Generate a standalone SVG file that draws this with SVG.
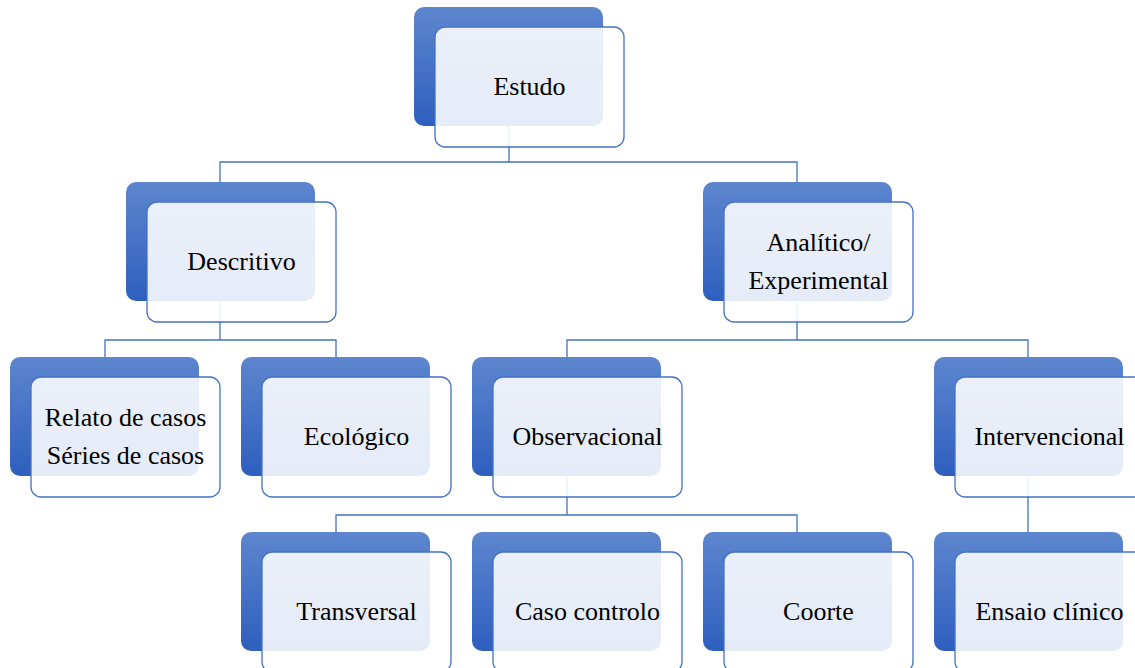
<svg xmlns="http://www.w3.org/2000/svg" width="1135" height="668" viewBox="0 0 1135 668">
<defs>
<linearGradient id="g" x1="0" y1="0" x2="0" y2="1">
<stop offset="0" stop-color="#5d86ce"/>
<stop offset="1" stop-color="#2e5fbe"/>
</linearGradient>
<style>
.back{fill:url(#g);}
.front{fill:#ffffff;fill-opacity:0.88;stroke:#4472c4;stroke-width:1.3;}
.t{font-family:"Liberation Serif","Times New Roman",serif;font-size:26px;fill:#000;text-anchor:middle;}
.c{fill:none;stroke:#4472c4;stroke-width:1.3;}
</style>
</defs>
<rect width="1135" height="668" fill="#ffffff"/>
<g id="connectors">
<path class="c" d="M509,126V162M220,182V162H797V182"/>
<path class="c" d="M220,301V340M105,357V340H336V357"/>
<path class="c" d="M797,301V340M567,357V340H1028V357"/>
<path class="c" d="M567,476V515M336,532V515H797V532"/>
<path class="c" d="M1028,476V532"/>
</g>
<g id="estudo">
<rect class="back" x="414" y="7" width="189" height="119" rx="10"/>
<rect class="front" x="435" y="27" width="189" height="120" rx="10"/>
<text class="t" x="529.5" y="95">Estudo</text>
</g>
<g id="descritivo">
<rect class="back" x="126" y="182" width="189" height="119" rx="10"/>
<rect class="front" x="147" y="202" width="189" height="120" rx="10"/>
<text class="t" x="241.5" y="270">Descritivo</text>
</g>
<g id="analitico">
<rect class="back" x="703" y="182" width="189" height="119" rx="10"/>
<rect class="front" x="724" y="202" width="189" height="120" rx="10"/>
<text class="t" x="818.5" y="251">Analítico/</text>
<text class="t" x="818.5" y="289">Experimental</text>
</g>
<g id="relato">
<rect class="back" x="10" y="357" width="189" height="119" rx="10"/>
<rect class="front" x="31" y="377" width="189" height="120" rx="10"/>
<text class="t" x="125.5" y="425.5">Relato de casos</text>
<text class="t" x="125.5" y="463.5">Séries de casos</text>
</g>
<g id="ecologico">
<rect class="back" x="241" y="357" width="189" height="119" rx="10"/>
<rect class="front" x="262" y="377" width="189" height="120" rx="10"/>
<text class="t" x="356.5" y="445">Ecológico</text>
</g>
<g id="observacional">
<rect class="back" x="472" y="357" width="189" height="119" rx="10"/>
<rect class="front" x="493" y="377" width="189" height="120" rx="10"/>
<text class="t" x="587.5" y="445">Observacional</text>
</g>
<g id="intervencional">
<rect class="back" x="934" y="357" width="189" height="119" rx="10"/>
<rect class="front" x="955" y="377" width="189" height="120" rx="10"/>
<text class="t" x="1049.5" y="445">Intervencional</text>
</g>
<g id="transversal">
<rect class="back" x="241" y="532" width="189" height="119" rx="10"/>
<rect class="front" x="262" y="552" width="189" height="120" rx="10"/>
<text class="t" x="356.5" y="620">Transversal</text>
</g>
<g id="caso-controlo">
<rect class="back" x="472" y="532" width="189" height="119" rx="10"/>
<rect class="front" x="493" y="552" width="189" height="120" rx="10"/>
<text class="t" x="587.5" y="620">Caso controlo</text>
</g>
<g id="coorte">
<rect class="back" x="703" y="532" width="189" height="119" rx="10"/>
<rect class="front" x="724" y="552" width="189" height="120" rx="10"/>
<text class="t" x="818.5" y="620">Coorte</text>
</g>
<g id="ensaio">
<rect class="back" x="934" y="532" width="189" height="119" rx="10"/>
<rect class="front" x="955" y="552" width="189" height="120" rx="10"/>
<text class="t" x="1049.5" y="620">Ensaio clínico</text>
</g>
</svg>
